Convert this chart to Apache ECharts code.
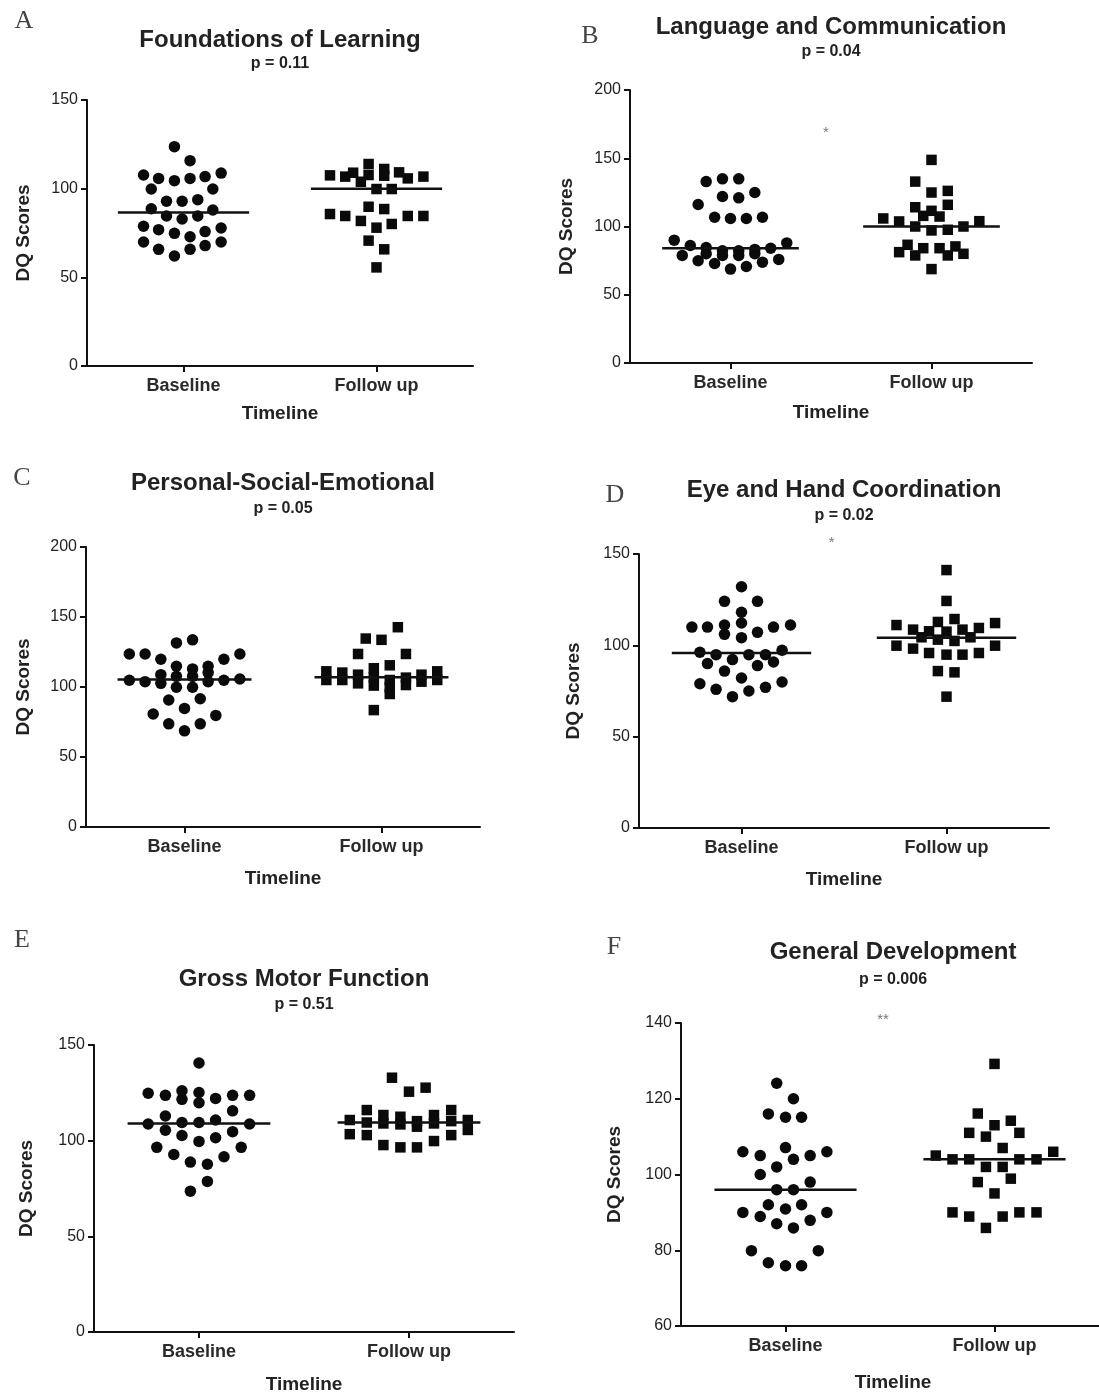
<!DOCTYPE html>
<html><head><meta charset="utf-8">
<script src="https://cdn.jsdelivr.net/npm/echarts@6/dist/echarts.min.js"></script>
<style>html,body{margin:0;padding:0;background:#fff}#c{width:1099px;height:1396px}</style>
</head><body><div id="c"></div>
<script>
// ---------------- DATA ----------------
const categories = ['Baseline', 'Follow up'];
const panelLetters = ['A', 'B', 'C', 'D', 'E', 'F'];
const panelTitles = ['Foundations of Learning', 'Language and Communication', 'Personal-Social-Emotional',
  'Eye and Hand Coordination', 'Gross Motor Function', 'General Development'];
const pTexts = ['p = 0.11', 'p = 0.04', 'p = 0.05', 'p = 0.02', 'p = 0.51', 'p = 0.006'];
const yMins = [0, 0, 0, 0, 0, 60];
const yMaxs = [150, 200, 200, 150, 150, 140];
const ySteps = [50, 50, 50, 50, 50, 20];
const yTitle = 'DQ Scores';
const xTitle = 'Timeline';

// Panel A
const aBaseY = [123.7,115.8,107.7,105.8,104.5,105.8,106.8,108.8,99.8,99.8,92.9,92.9,93.8,88.7,88.0,84.6,82.9,84.6,78.8,76.9,74.8,72.9,75.8,77.8,69.9,65.8,62.0,65.8,67.9,69.9];
const aBaseJ = [-0.047,0.034,-0.207,-0.129,-0.047,0.034,0.112,0.195,-0.167,0.152,-0.088,-0.007,0.074,-0.167,0.152,-0.088,-0.007,0.074,-0.207,-0.129,-0.047,0.034,0.112,0.195,-0.207,-0.129,-0.047,0.034,0.112,0.195];
const aFollowY = [107.5,106.8,109.0,103.9,113.9,107.7,111.1,107.3,109.2,105.8,106.8,99.8,99.8,85.7,84.6,81.8,89.8,78.0,88.5,80.1,84.6,84.6,70.7,65.8,55.6];
const aFollowJ = [-0.241,-0.162,-0.121,-0.081,-0.041,-0.041,0.040,0.040,0.117,0.162,0.243,0,0.079,-0.241,-0.162,-0.081,-0.041,0,0.040,0.079,0.162,0.243,-0.041,0.040,0];
// Panel B
const bBaseY = [132.9,134.9,134.9,116.1,122.0,121.0,124.9,106.8,105.9,105.9,106.8,90.0,86.1,84.6,82.2,82.2,83.2,84.1,88.0,78.8,74.9,80.0,78.8,78.8,80.0,72.9,68.8,70.7,73.9,75.9];
const bBaseJ = [-0.121,-0.040,0.041,-0.161,-0.040,0.041,0.121,-0.079,0,0.079,0.159,-0.280,-0.200,-0.121,-0.040,0.041,0.121,0.200,0.280,-0.240,-0.161,-0.121,-0.040,0.041,0.121,-0.079,0,0.079,0.159,0.240];
const bFollowY = [148.8,132.9,124.9,126.1,114.1,115.9,111.5,107.8,107.3,105.9,103.7,100,97.1,97.6,100,103.9,86.6,81.2,84.1,78.8,84.1,85.4,78.8,80.0,68.8];
const bFollowJ = [0,-0.081,0,0.081,-0.081,0.081,0,-0.041,0.040,-0.240,-0.161,-0.081,0,0.081,0.159,0.238,-0.119,-0.161,-0.041,-0.081,0.040,0.119,0.081,0.159,0];
// Panel C
const cBaseY = [131.5,133.7,123.6,123.6,123.6,119.8,119.8,114.8,112.9,114.8,108.8,107.6,107.6,110.3,104.8,103.8,102.6,103.8,104.8,105.7,99.8,99.8,90.7,91.6,84.7,80.7,79.7,73.7,73.7,68.7];
const cBaseJ = [-0.041,0.041,-0.280,-0.200,0.281,-0.120,0.200,-0.041,0.041,0.120,-0.120,-0.041,0.041,0.120,-0.280,-0.200,-0.120,0.120,0.200,0.281,-0.041,0.041,-0.080,0.080,0,-0.159,0.159,-0.080,0.080,0];
const cFollowY = [142.7,134.6,133.7,123.6,123.6,115.5,113.4,111.2,110.3,111.2,108.8,106.9,108.8,105.0,105.0,106.7,105.0,105.0,103.8,102.6,101.0,101.4,99.8,95.0,83.5];
const cFollowJ = [0.083,-0.080,0,-0.119,0.124,0.042,-0.039,-0.280,-0.199,0.283,-0.119,-0.039,0.203,-0.280,-0.199,0.124,0.283,0.042,0.203,-0.119,-0.039,0.124,0.042,0.042,-0.039];
// Panel D
const dBaseY = [132.1,124.1,124.1,118.1,110.0,110.0,111.1,112.2,110.0,111.1,106.0,107.1,104.2,96.2,94.9,94.9,94.9,97.3,92.2,90.0,88.9,90.9,85.9,82.1,79.0,79.9,75.9,77.0,75.0,71.9];
const dBaseJ = [0,-0.083,0.078,0,-0.242,-0.166,-0.083,0,0.156,0.239,-0.083,0.078,0,-0.203,-0.124,0.036,0.117,0.198,-0.044,-0.166,0.078,0.156,-0.083,0,-0.203,0.198,-0.124,0.117,0.036,-0.044];
const dFollowY = [141.2,124.3,114.4,111.1,112.8,112.2,108.6,107.7,107.5,108.6,109.5,104.4,104.4,103.1,102.4,99.8,99.8,98.2,95.8,94.9,94.9,95.8,85.9,85.2,71.9];
const dFollowJ = [0,0,0.039,-0.244,-0.042,0.237,-0.163,-0.085,0,0.078,0.158,-0.122,0.117,-0.042,0.039,-0.244,0.237,-0.163,-0.085,0,0.078,0.158,-0.042,0.039,0];
// Panel E
const eBaseY = [140.6,124.8,123.7,126.1,125.2,121.6,119.8,122.1,123.7,123.7,115.6,112.9,108.7,109.5,109.5,110.8,108.7,105.5,102.7,101.5,104.7,99.6,96.5,96.5,92.8,91.6,88.8,87.7,78.7,73.6];
const eBaseJ = [0,-0.242,-0.160,-0.081,0,-0.081,0,0.079,0.160,0.241,0.160,-0.160,-0.242,-0.081,0,0.079,0.241,-0.160,-0.081,0.079,0.160,0,-0.201,0.201,-0.120,0.119,-0.041,0.040,0.040,-0.041];
const eFollowY = [132.9,125.6,127.7,116.0,116.0,113.4,112.5,113.4,110.8,109.5,109.0,108.5,110.2,109.0,110.2,110.8,107.3,105.6,103.4,102.9,102.9,99.8,97.7,96.5,96.5];
const eFollowJ = [-0.081,0,0.079,-0.201,0.201,-0.122,-0.041,0.119,-0.282,-0.201,-0.122,-0.041,0.038,0.119,0.201,0.280,0.038,0.280,-0.282,-0.201,0.201,0.119,-0.122,-0.041,0.038];
// Panel F
const fBaseY = [124.1,120.0,116.0,115.1,115.1,107.1,106.0,105.0,105.0,106.0,104.0,102.0,100.0,98.0,96.0,96.0,92.0,92.0,90.9,90.0,90.0,88.9,87.9,87.0,85.9,79.9,79.9,76.7,75.9,75.9];
const fBaseJ = [-0.042,0.038,-0.082,0,0.077,0,-0.204,-0.121,0.118,0.198,0.038,-0.042,-0.121,0.118,-0.042,0.038,-0.082,0.077,0,-0.204,0.198,-0.121,0.118,-0.042,0.038,-0.163,0.157,-0.082,0,0.077];
const fFollowY = [129.2,116.1,114.2,113.0,111.0,111.0,110.0,107.0,105.0,106.0,104.0,104.0,104.0,104.0,102.0,102.0,98.9,98.0,95.0,90.0,90.0,90.0,88.9,88.9,85.9];
const fFollowJ = [0,-0.080,0.078,0,-0.121,0.119,-0.041,0.039,-0.281,0.281,-0.201,-0.121,0.119,0.201,-0.041,0.039,0.078,-0.080,0,-0.201,0.119,0.201,-0.121,0.039,-0.041];

// group mean lines (Baseline, Follow up)
const meanBaseline = [86.5, 84.1, 105.3, 95.8, 109.0, 96.0];
const meanFollowUp = [100.0, 100.0, 106.9, 104.2, 109.5, 104.0];

// significance marks: text, x position between groups, y value
const sigText = ['', '*', '', '*', '', '**'];
const sigX = [0, 1.475, 0, 1.44, 0, 1.467];
const sigY = [0, 168.5, 0, 156, 0, 140.8];

const baseY = [aBaseY, bBaseY, cBaseY, dBaseY, eBaseY, fBaseY];
const baseJ = [aBaseJ, bBaseJ, cBaseJ, dBaseJ, eBaseJ, fBaseJ];
const followY = [aFollowY, bFollowY, cFollowY, dFollowY, eFollowY, fFollowY];
const followJ = [aFollowJ, bFollowJ, cFollowJ, dFollowJ, eFollowJ, fFollowJ];

// ---------------- LAYOUT (pixels) ----------------
const grids = [
  {left: 87, top: 100, width: 386, height: 266},
  {left: 630, top: 90, width: 402, height: 273},
  {left: 86, top: 547, width: 394, height: 280},
  {left: 639, top: 554, width: 410, height: 274},
  {left: 94, top: 1045, width: 420, height: 287},
  {left: 681, top: 1023, width: 424, height: 303}
];
const letterPos = [[24, 21], [590, 36], [22, 478], [615, 495], [22, 940], [614, 947]];
const titleY = [40, 27, 483, 490, 979, 952];
const pY = [64, 52, 509, 516, 1005, 980];
const yTitleX = [24, 567, 24, 574, 27, 615];
const xTitleY = [414, 413, 879, 880, 1385, 1383];

const meanHalfWidth = 0.34;
const textColor = '#222';
const sans = 'Liberation Sans, Arial, sans-serif';

const chart = echarts.init(document.getElementById('c'), null, {renderer: 'canvas'});

const option = {
  backgroundColor: '#fff',
  animation: false,
  grid: [], xAxis: [], yAxis: [], series: [], graphic: []
};

grids.forEach((g, i) => {
  option.grid.push(Object.assign({containLabel: false}, g));
  option.xAxis.push({
    type: 'value', gridIndex: i, min: 0.5, max: 2.5, interval: 0.5,
    axisLine: {show: true, onZero: false, lineStyle: {color: '#111', width: 2}},
    axisTick: {show: true, customValues: [1, 2], length: 6, lineStyle: {color: '#111', width: 2}},
    axisLabel: {show: true, customValues: [1, 2], margin: 11,
      formatter: v => (Math.abs(v - 1) < 1e-6 ? categories[0] : (Math.abs(v - 2) < 1e-6 ? categories[1] : '')),
      fontFamily: sans, fontSize: 18, fontWeight: 'bold', color: '#2a2a2a'},
    splitLine: {show: false}
  });
  option.yAxis.push({
    type: 'value', gridIndex: i, min: yMins[i], max: yMaxs[i], interval: ySteps[i],
    axisLine: {show: true, lineStyle: {color: '#111', width: 2}},
    axisTick: {show: true, length: 6, lineStyle: {color: '#111', width: 2}},
    axisLabel: {margin: 9, fontFamily: sans, fontSize: 16, color: textColor},
    splitLine: {show: false}
  });
  option.series.push({
    type: 'scatter', xAxisIndex: i, yAxisIndex: i, symbol: 'circle', symbolSize: 11.5,
    itemStyle: {color: '#0a0a0a', opacity: 1},
    data: baseY[i].map((v, k) => [1 + baseJ[i][k], v])
  });
  option.series.push({
    type: 'scatter', xAxisIndex: i, yAxisIndex: i, symbol: 'rect', symbolSize: 10.5,
    itemStyle: {color: '#0a0a0a', opacity: 1},
    data: followY[i].map((v, k) => [2 + followJ[i][k], v])
  });
  [[1, meanBaseline[i]], [2, meanFollowUp[i]]].forEach(([c, m]) => {
    option.series.push({
      type: 'line', xAxisIndex: i, yAxisIndex: i, symbol: 'none', z: 5,
      lineStyle: {color: '#111', width: 2.5},
      data: [[c - meanHalfWidth, m], [c + meanHalfWidth, m]]
    });
  });
  if (sigText[i]) {
    option.series.push({
      type: 'scatter', xAxisIndex: i, yAxisIndex: i, clip: false, symbolSize: 1,
      itemStyle: {color: 'rgba(0,0,0,0)'},
      label: {show: true, position: 'inside', formatter: sigText[i], fontSize: 15, color: '#555', fontFamily: sans},
      data: [[sigX[i], sigY[i]]]
    });
  }
  const cx = g.left + g.width / 2;
  option.graphic.push(
    {type: 'text', x: letterPos[i][0], y: letterPos[i][1], style: {text: panelLetters[i],
      font: '26px "Liberation Serif", "Times New Roman", serif', fill: '#444', align: 'center', verticalAlign: 'middle'}},
    {type: 'text', x: cx, y: titleY[i], style: {text: panelTitles[i],
      font: 'bold 24px ' + sans, fill: textColor, align: 'center', verticalAlign: 'middle'}},
    {type: 'text', x: cx, y: pY[i], style: {text: pTexts[i],
      font: 'bold 16px ' + sans, fill: textColor, align: 'center', verticalAlign: 'middle'}},
    {type: 'text', x: cx, y: xTitleY[i], style: {text: xTitle,
      font: 'bold 19px ' + sans, fill: textColor, align: 'center', verticalAlign: 'middle'}},
    {type: 'text', x: yTitleX[i], y: g.top + g.height / 2, rotation: Math.PI / 2, style: {text: yTitle,
      font: 'bold 19px ' + sans, fill: textColor, align: 'center', verticalAlign: 'middle'}}
  );
});

chart.setOption(option);
</script>
</body></html>
